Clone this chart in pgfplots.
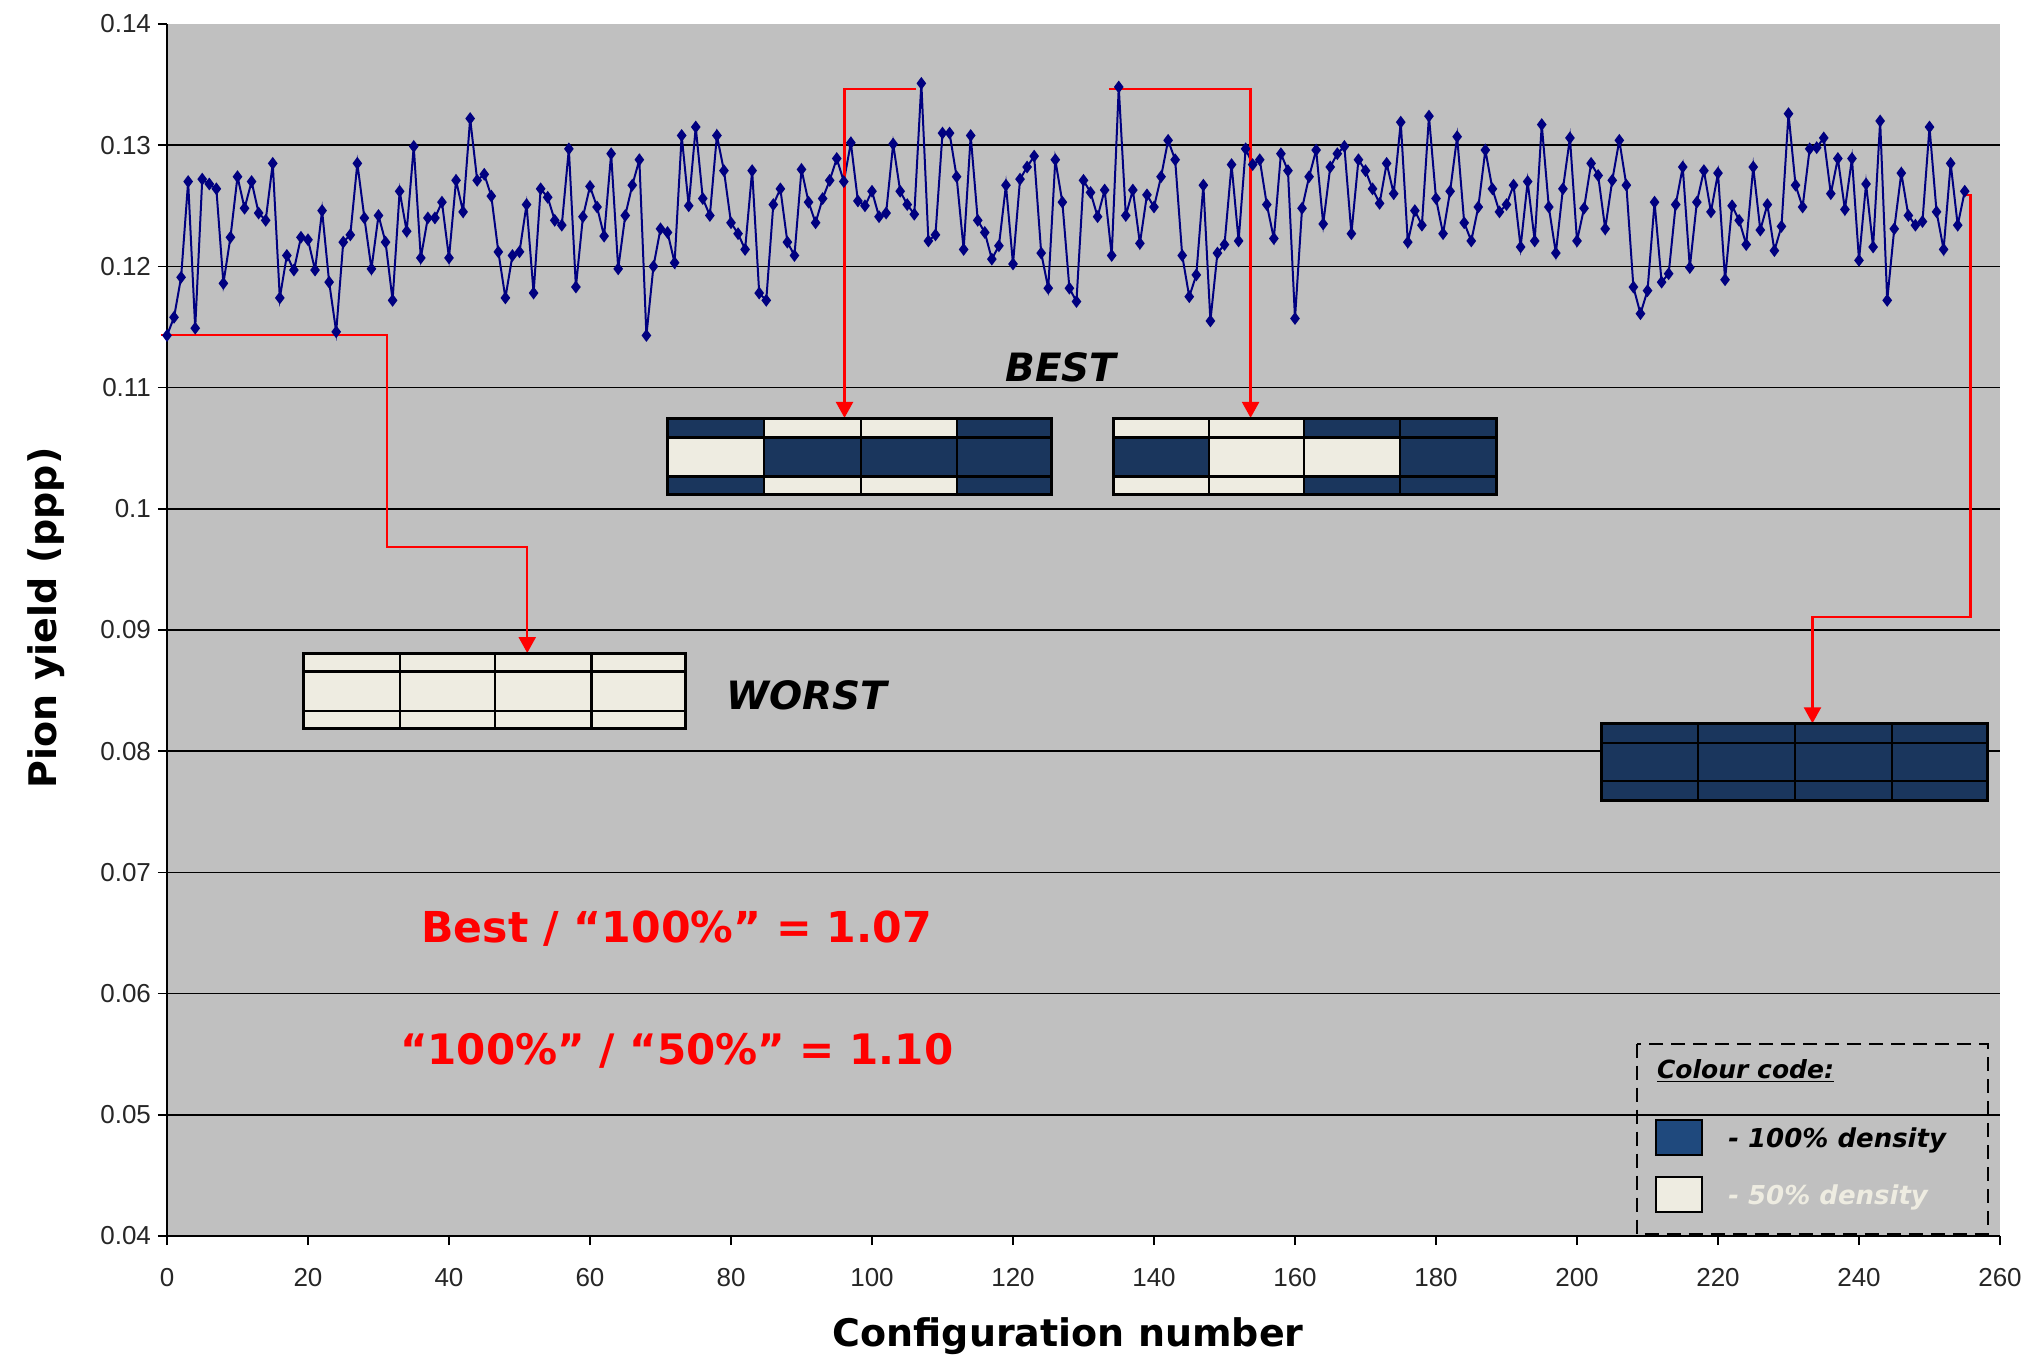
\documentclass[border=0pt]{standalone}
\usepackage{fontspec}
\setmainfont{Liberation Sans}
\newfontfamily\dv{DejaVu Sans}
\usepackage{pgfplots}
\pgfplotsset{compat=1.18}
\usepackage{pgfplotstable}
\usetikzlibrary{arrows.meta}
\definecolor{plotbg}{HTML}{C0C0C0}
\definecolor{navyline}{HTML}{000080}
\definecolor{boxnavy}{HTML}{1A365D}
\definecolor{boxcream}{HTML}{EEECE1}
\definecolor{legnavy}{HTML}{1F497D}

\pgfplotstableread{
x y
0 0.1143
1 0.1158
2 0.1191
3 0.1270
4 0.1149
5 0.1272
6 0.1268
7 0.1264
8 0.1186
9 0.1224
10 0.1274
11 0.1248
12 0.1270
13 0.1244
14 0.1238
15 0.1285
16 0.1174
17 0.1209
18 0.1197
19 0.1224
20 0.1222
21 0.1197
22 0.1246
23 0.1187
24 0.1146
25 0.1220
26 0.1226
27 0.1285
28 0.1240
29 0.1198
30 0.1242
31 0.1220
32 0.1172
33 0.1262
34 0.1229
35 0.1299
36 0.1207
37 0.1240
38 0.1240
39 0.1253
40 0.1207
41 0.1271
42 0.1245
43 0.1322
44 0.1271
45 0.1276
46 0.1258
47 0.1212
48 0.1174
49 0.1209
50 0.1212
51 0.1251
52 0.1178
53 0.1264
54 0.1257
55 0.1238
56 0.1234
57 0.1297
58 0.1183
59 0.1241
60 0.1266
61 0.1249
62 0.1225
63 0.1293
64 0.1198
65 0.1242
66 0.1267
67 0.1288
68 0.1143
69 0.1200
70 0.1231
71 0.1228
72 0.1203
73 0.1308
74 0.1250
75 0.1315
76 0.1256
77 0.1242
78 0.1308
79 0.1279
80 0.1236
81 0.1227
82 0.1214
83 0.1279
84 0.1178
85 0.1172
86 0.1251
87 0.1264
88 0.1220
89 0.1209
90 0.1280
91 0.1253
92 0.1236
93 0.1256
94 0.1271
95 0.1289
96 0.1270
97 0.1302
98 0.1254
99 0.1250
100 0.1262
101 0.1241
102 0.1244
103 0.1301
104 0.1262
105 0.1251
106 0.1243
107 0.1351
108 0.1221
109 0.1226
110 0.1310
111 0.1310
112 0.1274
113 0.1214
114 0.1308
115 0.1238
116 0.1228
117 0.1206
118 0.1217
119 0.1267
120 0.1202
121 0.1272
122 0.1282
123 0.1291
124 0.1211
125 0.1182
126 0.1288
127 0.1253
128 0.1182
129 0.1171
130 0.1271
131 0.1261
132 0.1241
133 0.1263
134 0.1209
135 0.1348
136 0.1242
137 0.1263
138 0.1219
139 0.1259
140 0.1249
141 0.1274
142 0.1304
143 0.1288
144 0.1209
145 0.1175
146 0.1193
147 0.1267
148 0.1155
149 0.1211
150 0.1218
151 0.1284
152 0.1221
153 0.1297
154 0.1284
155 0.1288
156 0.1251
157 0.1223
158 0.1293
159 0.1279
160 0.1157
161 0.1248
162 0.1274
163 0.1296
164 0.1235
165 0.1282
166 0.1293
167 0.1299
168 0.1227
169 0.1288
170 0.1279
171 0.1264
172 0.1252
173 0.1285
174 0.1260
175 0.1319
176 0.1220
177 0.1246
178 0.1234
179 0.1324
180 0.1256
181 0.1227
182 0.1262
183 0.1307
184 0.1236
185 0.1221
186 0.1249
187 0.1296
188 0.1264
189 0.1245
190 0.1251
191 0.1267
192 0.1216
193 0.1270
194 0.1221
195 0.1317
196 0.1249
197 0.1211
198 0.1264
199 0.1306
200 0.1221
201 0.1248
202 0.1285
203 0.1275
204 0.1231
205 0.1271
206 0.1304
207 0.1267
208 0.1183
209 0.1161
210 0.1180
211 0.1253
212 0.1187
213 0.1194
214 0.1251
215 0.1282
216 0.1199
217 0.1253
218 0.1279
219 0.1245
220 0.1277
221 0.1189
222 0.1250
223 0.1238
224 0.1218
225 0.1282
226 0.1230
227 0.1251
228 0.1213
229 0.1233
230 0.1326
231 0.1267
232 0.1249
233 0.1297
234 0.1298
235 0.1306
236 0.1260
237 0.1289
238 0.1247
239 0.1289
240 0.1205
241 0.1268
242 0.1216
243 0.1320
244 0.1172
245 0.1231
246 0.1277
247 0.1242
248 0.1234
249 0.1237
250 0.1315
251 0.1245
252 0.1214
253 0.1285
254 0.1234
255 0.1262
}\yielddata

\newcommand\cell[5]{\fill[#5] (axis cs:#1,#2) rectangle (axis cs:#3,#4);}
\newcommand\boxlines[9]{%
  \draw[black, line width=1.1pt] (axis cs:#2,#6) -- (axis cs:#2,#9) (axis cs:#3,#6) -- (axis cs:#3,#9) (axis cs:#4,#6) -- (axis cs:#4,#9) (axis cs:#1,#7) -- (axis cs:#5,#7) (axis cs:#1,#8) -- (axis cs:#5,#8);
  \draw[black, line width=1.5pt] (axis cs:#1,#6) rectangle (axis cs:#5,#9);}

\begin{document}
\begin{tikzpicture}
\useasboundingbox (-83.5pt,-63pt) rectangle (936.5pt,618pt);
\begin{axis}[
  at={(0,0)}, anchor=south west,
  width=916.5pt, height=606pt, scale only axis,
  xmin=0, xmax=260, ymin=0.04, ymax=0.14,
  clip=false,
  axis background/.style={fill=plotbg},
  axis x line*=bottom, axis y line*=left,
  axis line style={-, line width=1pt, black},
  xtick={0,20,...,260},
  ytick={0.04,0.05,0.06,0.07,0.08,0.09,0.1,0.11,0.12,0.13},
  yticklabels={0.04,0.05,0.06,0.07,0.08,0.09,0.1,0.11,0.12,0.13},
  extra y ticks={0.14}, extra y tick labels={0.14},
  extra y tick style={grid=none},
  ymajorgrids, grid style={black, line width=0.8pt},
  tick align=outside, major tick length=4.5pt,
  tick style={black, line width=0.8pt},
  ticklabel style={font=\fontsize{13}{15}\selectfont, text=black!85},
  xticklabel style={yshift=-8pt},
  /pgf/number format/assume math mode=true,
  scaled y ticks=false,
  xlabel={Configuration number},
  ylabel={Pion yield (ppp)},
  xlabel style={at={(axis description cs:0.4916,-0.0825)}, anchor=center, font=\dv\bfseries\fontsize{19}{22}\selectfont},
  ylabel style={at={(axis description cs:-0.066,0.51)}, anchor=center, font=\dv\bfseries\fontsize{19}{22}\selectfont},
]
\addplot[navyline, line width=1pt, mark=diamond*, mark size=2.4pt,
  mark options={solid, fill=navyline, draw=navyline}] table[x=x,y=y]{\yielddata};

% red arrows
\draw[red, line width=1.2pt, -{Triangle[length=8pt,width=8.5pt]}]
  (axis cs:-0.9,0.11436) -- (axis cs:31.2,0.11436) -- (axis cs:31.2,0.09687) -- (axis cs:51.1,0.09687) -- (axis cs:51.1,0.0881);
\draw[red, line width=1.2pt, -{Triangle[length=8pt,width=8.5pt]}]
  (axis cs:106.3,0.13464) -- (axis cs:96.1,0.13464) -- (axis cs:96.1,0.1075);
\draw[red, line width=1.2pt, -{Triangle[length=8pt,width=8.5pt]}]
  (axis cs:133.6,0.13464) -- (axis cs:153.7,0.13464) -- (axis cs:153.7,0.1075);
\draw[red, line width=1.2pt, -{Triangle[length=8pt,width=8.5pt]}]
  (axis cs:255,0.1259) -- (axis cs:255.8,0.1259) -- (axis cs:255.8,0.09107) -- (axis cs:233.4,0.09107) -- (axis cs:233.4,0.0823);

% best box 1
\cell{71.05}{0.10749}{125.5}{0.10116}{boxnavy}
\cell{71.05}{0.10588}{84.7}{0.10266}{boxcream}
\cell{84.7}{0.10749}{112.0}{0.10588}{boxcream}
\cell{84.7}{0.10266}{112.0}{0.10116}{boxcream}
\boxlines{71.05}{84.7}{98.4}{112.0}{125.5}{0.10749}{0.10588}{0.10266}{0.10116}
% best box 2
\cell{134.2}{0.10749}{188.6}{0.10116}{boxnavy}
\cell{134.2}{0.10749}{161.3}{0.10588}{boxcream}
\cell{134.2}{0.10266}{161.3}{0.10116}{boxcream}
\cell{147.8}{0.10588}{174.9}{0.10266}{boxcream}
\boxlines{134.2}{147.8}{161.3}{174.9}{188.6}{0.10749}{0.10588}{0.10266}{0.10116}
% worst box
\cell{19.4}{0.08807}{73.6}{0.08185}{boxcream}
\boxlines{19.4}{33.0}{46.5}{60.2}{73.6}{0.08807}{0.08657}{0.08335}{0.08185}
% 100% box
\cell{203.5}{0.08227}{258.2}{0.07594}{boxnavy}
\boxlines{203.5}{217.2}{230.9}{244.7}{258.2}{0.08227}{0.08067}{0.07755}{0.07594}

% texts
\node[font=\dv\bfseries\itshape\fontsize{19.5}{22}\selectfont] at (axis cs:126.8,0.1117) {BEST};
\node[font=\dv\bfseries\itshape\fontsize{19.5}{22}\selectfont] at (axis cs:90.8,0.0846) {WORST};
\node[text=red, font=\dv\bfseries\fontsize{21.3}{25}\selectfont] at (axis cs:72.3,0.06532) {Best / “100\%” = 1.07};
\node[text=red, font=\dv\bfseries\fontsize{21}{25}\selectfont] at (axis cs:72.3,0.05524) {“100\%” / “50\%” = 1.10};

% legend
\draw[black, line width=1pt, dash pattern=on 7pt off 4pt] (axis cs:208.5,0.05588) rectangle (axis cs:258.3,0.0402);
\node[anchor=base west, inner sep=0pt, font=\dv\bfseries\itshape\fontsize{12.5}{15}\selectfont] at (axis cs:211.3,0.05303) {\underline{Colour code:}};
\filldraw[fill=legnavy, draw=black, line width=1pt] (axis cs:211.2,0.04959) rectangle (axis cs:217.7,0.04669);
\filldraw[fill=boxcream, draw=black, line width=1pt] (axis cs:211.2,0.04488) rectangle (axis cs:217.7,0.04198);
\node[anchor=base west, inner sep=0pt, font=\dv\bfseries\itshape\fontsize{13}{15}\selectfont] at (axis cs:221.4,0.04727) {- 100\% density};
\node[anchor=base west, inner sep=0pt, text=boxcream, font=\dv\bfseries\itshape\fontsize{13}{15}\selectfont] at (axis cs:221.4,0.04256) {- 50\% density};
\end{axis}
\end{tikzpicture}
\end{document}
